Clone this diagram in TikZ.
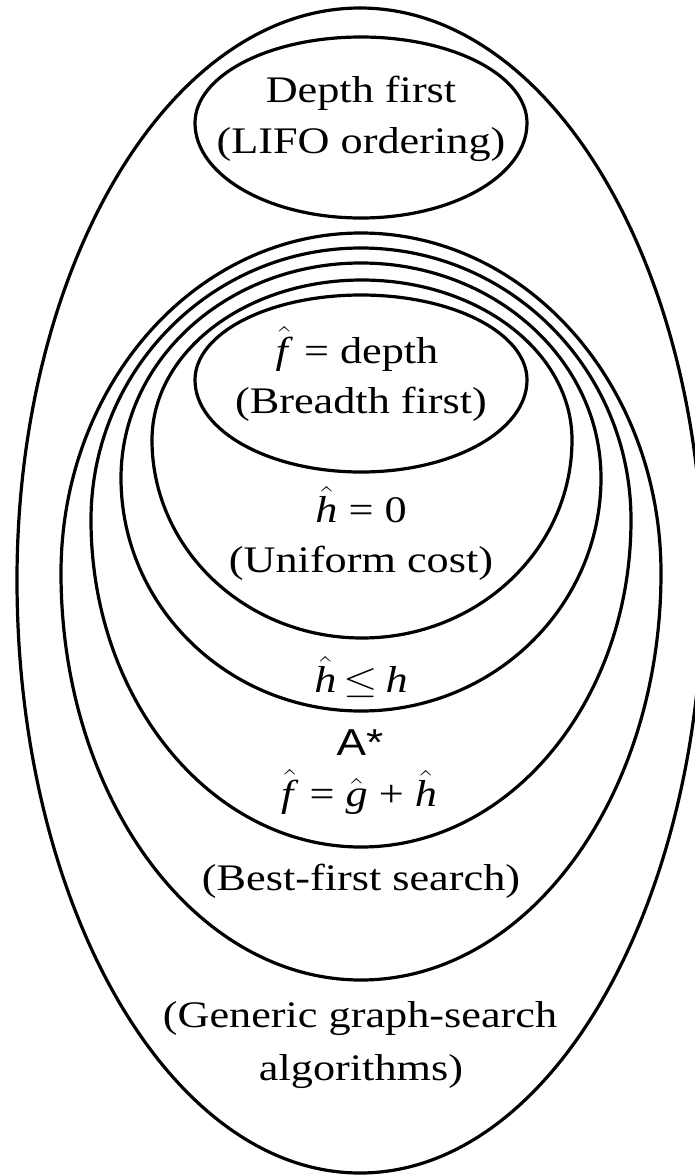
\documentclass[tikz,border=0pt]{standalone}
\usepackage{fix-cm}
\usepackage{graphicx}
\usepackage{fontspec}
\setmainfont{Liberation Serif}
\newfontfamily\sansA{Liberation Sans}
\newcommand{\hatit}[1]{\ensuremath{\hat{\mbox{\textit{#1}}}}}
\newcommand{\stretchx}[1]{\scalebox{1.18}[1]{#1}}
\begin{document}
\begin{tikzpicture}[x=1pt,y=-1pt,
  ring/.style={line width=3.2pt, black},
  lbl/.style={anchor=base, inner sep=0pt, font=\fontsize{37.5}{45}\selectfont}]
\useasboundingbox (0,0) rectangle (694,1176);
% outer: generic graph search
\draw[ring] (17,580) arc[start angle=180, end angle=360, x radius=343, y radius=572]
  arc[start angle=0, end angle=180, x radius=343, y radius=593] -- cycle;
% depth first
\draw[ring] (195,123) arc[start angle=180, end angle=360, x radius=166, y radius=86]
  arc[start angle=0, end angle=180, x radius=166, y radius=95] -- cycle;
% best-first
\draw[ring] (61,573) arc[start angle=180, end angle=360, x radius=300, y radius=340]
  arc[start angle=0, end angle=180, x radius=300, y radius=407] -- cycle;
% A*
\draw[ring] (91,520) arc[start angle=180, end angle=360, x radius=270, y radius=272]
  arc[start angle=0, end angle=180, x radius=270, y radius=327] -- cycle;
% h <= h
\draw[ring] (121,478) arc[start angle=180, end angle=360, x radius=240, y radius=215]
  arc[start angle=0, end angle=180, x radius=240, y radius=233] -- cycle;
% uniform cost
\draw[ring] (152,440) arc[start angle=180, end angle=360, x radius=210, y radius=160]
  arc[start angle=0, end angle=180, x radius=210, y radius=198] -- cycle;
% breadth first
\draw[ring] (195,380) arc[start angle=180, end angle=360, x radius=166, y radius=85]
  arc[start angle=0, end angle=180, x radius=166, y radius=92] -- cycle;

\node[lbl] (d1) at (361,102) {\stretchx{Depth first}};
\node[lbl] (d2) at (361,153) {\stretchx{(LIFO ordering)}};
\node[lbl] (b1) at (357,363) {\stretchx{\hatit{f} = depth}};
\node[lbl] (b2) at (361,413) {\stretchx{(Breadth first)}};
\node[lbl] (u1) at (361,522) {\stretchx{\hatit{h} = 0}};
\node[lbl] (u2) at (361,572) {\stretchx{(Uniform cost)}};
\node[lbl] (h1) at (361,692) {\stretchx{\hatit{h}\,$\leq$\,\textit{h}}};
\node[lbl] (a1) at (360,755) {\stretchx{\sansA A*}};
\node[lbl] (a2) at (359,806) {\stretchx{\hatit{f} = \hatit{g} + \hatit{h}}};
\node[lbl] (bf) at (361,890) {\stretchx{(Best-first search)}};
\node[lbl] (g1) at (360,1027) {\stretchx{(Generic graph-search}};
\node[lbl] (g2) at (361,1080) {\stretchx{algorithms)}};
\end{tikzpicture}
\end{document}
